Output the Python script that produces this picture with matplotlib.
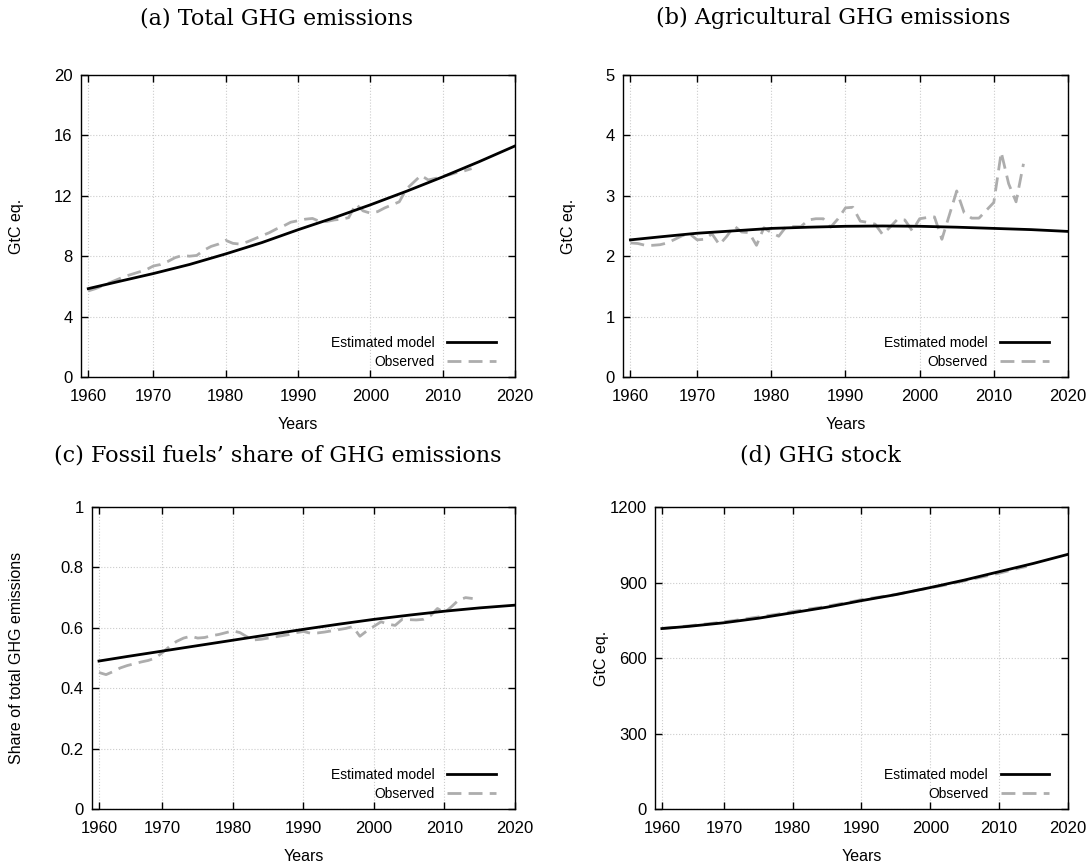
import numpy as np
import matplotlib
matplotlib.use("Agg")
import matplotlib.pyplot as plt

# ============================
# DATA
# ============================
obs_years = list(range(1961, 2015))
model_years = [1961, 1965, 1970, 1975, 1980, 1985, 1990, 1995, 2000, 2005, 2010, 2015, 2020]

# (a) Total GHG emissions, GtC eq.
total_model = [5.85, 6.3, 6.85, 7.45, 8.15, 8.9, 9.75, 10.55, 11.4, 12.3, 13.25, 14.25, 15.3]
total_obs = [5.70, 5.85, 6.05, 6.25, 6.45, 6.65, 6.80, 6.95, 7.10, 7.35,
             7.45, 7.65, 7.90, 8.05, 8.00, 8.05, 8.40, 8.65, 8.80, 9.05,
             8.85, 8.80, 8.95, 9.15, 9.35, 9.55, 9.80, 10.00, 10.25, 10.35,
             10.45, 10.50, 10.30, 10.30, 10.40, 10.45, 10.55, 11.45, 11.00, 10.85,
             10.95, 11.20, 11.40, 11.60, 12.45, 12.90, 13.35, 13.05, 13.15, 13.30,
             13.40, 13.55, 13.65, 13.80]

# (b) Agricultural GHG emissions, GtC eq.
agri_model = [2.27, 2.32, 2.38, 2.42, 2.46, 2.48, 2.495, 2.50, 2.495, 2.48, 2.46, 2.44, 2.41]
agri_obs = [2.22, 2.21, 2.18, 2.18, 2.19, 2.22, 2.28, 2.34, 2.37, 2.27,
            2.28, 2.37, 2.19, 2.33, 2.50, 2.40, 2.39, 2.18, 2.47, 2.39,
            2.33, 2.49, 2.49, 2.49, 2.60, 2.62, 2.62, 2.48, 2.62, 2.80,
            2.81, 2.58, 2.56, 2.53, 2.36, 2.48, 2.61, 2.60, 2.42, 2.62,
            2.64, 2.65, 2.28, 2.68, 3.08, 2.72, 2.63, 2.63, 2.76, 2.89,
            3.72, 3.20, 2.90, 3.53]

# (c) Fossil fuels' share of GHG emissions
share_model = [0.490, 0.505, 0.523, 0.541, 0.559, 0.577, 0.595, 0.612, 0.628, 0.642, 0.655, 0.666, 0.675]
share_obs = [0.452, 0.445, 0.455, 0.467, 0.475, 0.481, 0.487, 0.492, 0.500, 0.518,
             0.538, 0.555, 0.566, 0.572, 0.566, 0.568, 0.574, 0.578, 0.584, 0.590,
             0.584, 0.570, 0.560, 0.562, 0.566, 0.570, 0.574, 0.578, 0.584, 0.588,
             0.582, 0.583, 0.586, 0.590, 0.594, 0.598, 0.604, 0.572, 0.590, 0.605,
             0.620, 0.612, 0.608, 0.628, 0.627, 0.626, 0.628, 0.640, 0.664, 0.650,
             0.670, 0.692, 0.700, 0.697]

# (d) GHG stock, GtC eq.
stock_model = [717, 726, 740, 758, 780, 802, 828, 852, 880, 910, 943, 976, 1012]
stock_obs = [718, 720, 722, 725, 728, 731, 734, 737, 740, 744,
             747, 751, 755, 759, 763, 767, 771, 775, 780, 785,
             789, 793, 797, 801, 806, 811, 816, 821, 826, 832,
             836, 840, 844, 848, 853, 858, 863, 869, 874, 879,
             884, 889, 895, 901, 907, 913, 919, 925, 931, 937,
             944, 951, 958, 964]

xtick_pos = [1961, 1970, 1980, 1990, 2000, 2010, 2020]
xtick_labels = ["1960", "1970", "1980", "1990", "2000", "2010", "2020"]

# ============================
# PLOTS
# ============================
plt.rcParams["font.family"] = ["Liberation Sans", "DejaVu Sans"]

fig = plt.figure(figsize=(10.92, 8.67), dpi=100)

panels = [
    # rect, title, title xy, model, obs, yticks, ytick labels, ylabel, ylabel x (axes coords)
    ([0.0742, 0.5652, 0.3974, 0.3483], "(a) Total GHG emissions", (0.253, 0.979),
     total_model, total_obs, [0, 4, 8, 12, 16, 20], None, "GtC eq.", -0.131),
    ([0.5705, 0.5652, 0.4075, 0.3483], "(b) Agricultural GHG emissions", (0.763, 0.979),
     agri_model, agri_obs, [0, 1, 2, 3, 4, 5], None, "GtC eq.", -0.106),
    ([0.0842, 0.0669, 0.3874, 0.3483], "(c) Fossil fuels\u2019 share of GHG emissions", (0.254, 0.475),
     share_model, share_obs, [0, 0.2, 0.4, 0.6, 0.8, 1.0],
     ["0", "0.2", "0.4", "0.6", "0.8", "1"], "Share of total GHG emissions", -0.161),
    ([0.5998, 0.0669, 0.3782, 0.3483], "(d) GHG stock", (0.751, 0.475),
     stock_model, stock_obs, [0, 300, 600, 900, 1200], None, "GtC eq.", -0.111),
]

for rect, title, txy, model, obs, yticks, ylabels, ylabel, ylx in panels:
    ax = fig.add_axes(rect)
    ax.plot(model_years, model, color="black", lw=2.0, label="Estimated model", zorder=3)
    ax.plot(obs_years, obs, color="#adadad", lw=2.0, dashes=(5, 2.6), label="Observed", zorder=2)

    ax.set_xlim(1960, 2020)
    ax.set_ylim(yticks[0], yticks[-1])
    ax.set_xticks(xtick_pos)
    ax.set_xticklabels(xtick_labels)
    ax.set_yticks(yticks)
    if ylabels is not None:
        ax.set_yticklabels(ylabels)

    ax.grid(True, color="#cccccc", linestyle=":", linewidth=0.8)
    ax.tick_params(direction="in", length=5, width=1, top=True, right=True, labelsize=12)
    ax.tick_params(axis="x", pad=9)
    ax.tick_params(axis="y", pad=6)
    for sp in ax.spines.values():
        sp.set_linewidth(1.0)

    ax.set_xlabel("Years", fontsize=11.5, labelpad=9)
    ax.set_ylabel(ylabel, fontsize=11.5)
    ax.yaxis.set_label_coords(ylx, 0.5)

    ax.legend(loc="lower right", frameon=False, markerfirst=False, fontsize=10,
              handlelength=3.5, handletextpad=0.9, labelspacing=0.35,
              borderaxespad=0.2, bbox_to_anchor=(0.975, 0.0))

    fig.text(txy[0], txy[1], title, ha="center", va="center", fontsize=16,
             family="DejaVu Serif")

fig.savefig("out.png", dpi=100)
